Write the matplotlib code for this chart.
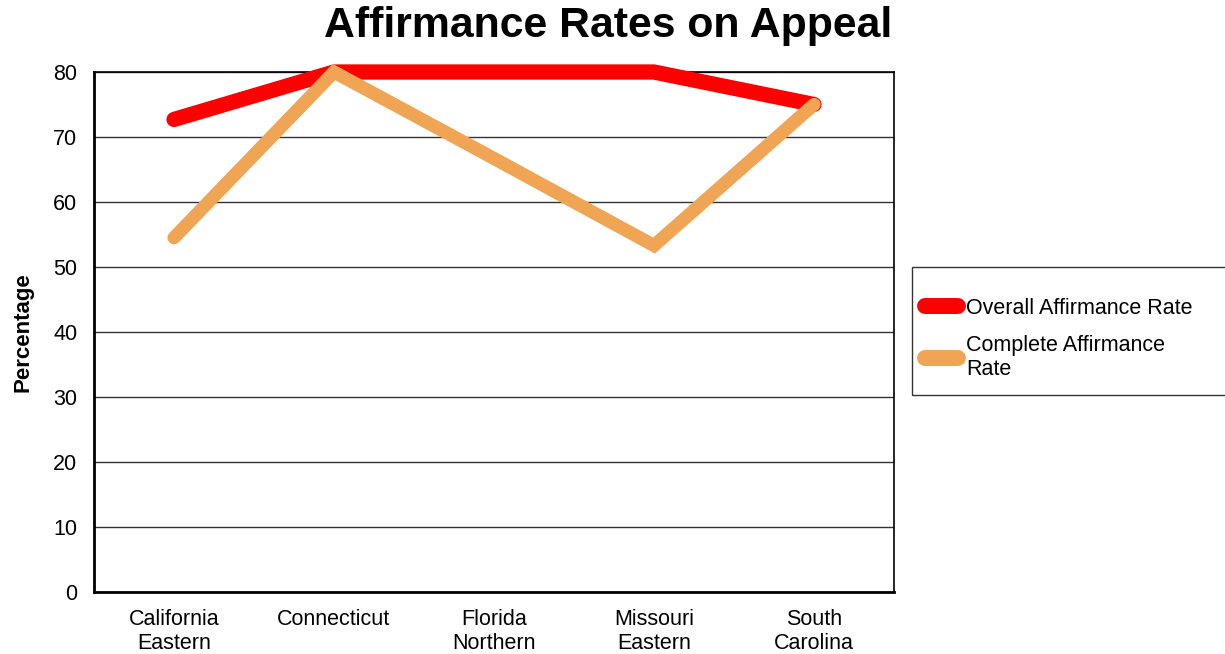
import matplotlib.pyplot as plt
from matplotlib.lines import Line2D
from matplotlib.patches import Rectangle

plt.rcParams['font.family'] = ['Liberation Sans', 'DejaVu Sans']

# district courts on the x axis
districts = ["California\nEastern", "Connecticut", "Florida\nNorthern",
             "Missouri\nEastern", "South\nCarolina"]
overall_rate = [72.7, 80, 80, 80, 75]
complete_rate = [54.5, 80, 66.7, 53.3, 75]

fig = plt.figure(figsize=(12.25, 6.54), dpi=100)
ax = fig.add_axes([94 / 1225, 62 / 654, 800 / 1225, 520 / 654])

x = list(range(len(districts)))
ax.plot(x, overall_rate, color='#ff0000', lw=11, solid_capstyle='round',
        solid_joinstyle='miter', clip_on=False, zorder=3)
ax.plot(x, complete_rate, color='#f0a555', lw=9.5, solid_capstyle='round',
        solid_joinstyle='miter', clip_on=False, zorder=4)

ax.set_xlim(-0.5, len(districts) - 0.5)
ax.set_ylim(0, 80)
ax.set_yticks(range(0, 81, 10))
ax.set_xticks(x)
ax.set_xticklabels(districts, fontsize=15.5, linespacing=1.2)
ax.tick_params(axis='y', labelsize=15.5, length=0, pad=12)
ax.tick_params(axis='x', length=0, pad=12)
ax.grid(axis='y', color='#333333', lw=1)
ax.set_axisbelow(True)
for s in ax.spines.values():
    s.set_color('black')
    s.set_linewidth(1.2)
ax.spines['bottom'].set_linewidth(2)
ax.spines['left'].set_linewidth(2)

ax.set_ylabel("Percentage", fontsize=16, fontweight='bold', labelpad=14)
fig.text(608 / 1225, 1 - 26 / 654, "Affirmance Rates on Appeal", fontsize=30.8,
         fontweight='bold', ha='center', va='center')

# legend box runs off the right edge like the original
fig.patches.append(Rectangle((912 / 1225, 1 - 395 / 654), 0.3, 128 / 654,
                             transform=fig.transFigure, fill=False,
                             edgecolor='#333333', lw=1))
handles = [Line2D([], [], color='#ff0000', lw=11.5, solid_capstyle='round'),
           Line2D([], [], color='#f0a555', lw=11.5, solid_capstyle='round')]
fig.legend(handles, ["Overall Affirmance Rate", "Complete Affirmance\nRate"],
           loc='upper left', bbox_to_anchor=(925 / 1225, 1 - 298 / 654),
           fontsize=15.5, frameon=False, borderpad=0, borderaxespad=0,
           handlelength=1.55, handletextpad=0.35, labelspacing=0.75)

fig.savefig("out.png", dpi=100)
